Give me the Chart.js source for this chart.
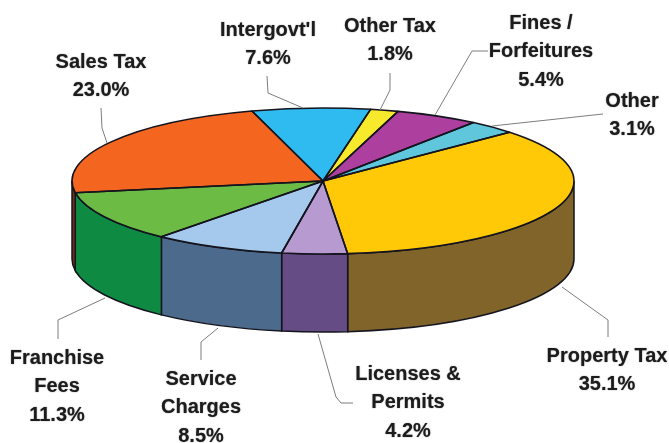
<!DOCTYPE html>
<html>
<head>
<meta charset="utf-8">
<title>Revenue by source</title>
<script src="https://cdn.jsdelivr.net/npm/chart.js@4"></script>
<style>
  html, body { margin: 0; padding: 0; background: #fff; }
  canvas { display: block; }
</style>
</head>
<body>
<canvas id="revenueChart" width="669" height="443"></canvas>
<script>
// data, clockwise from the Property Tax slice
const categories = ["Property Tax", "Licenses & Permits", "Service Charges", "Franchise Fees", "Sales Tax", "Intergovt'l", "Other Tax", "Fines / Forfeitures", "Other"];
const values = [35.1, 4.2, 8.5, 11.3, 23.0, 7.6, 1.8, 5.4, 3.1];
const labelLines = [["Property Tax"], ["Licenses &", "Permits"], ["Service", "Charges"], ["Franchise", "Fees"], ["Sales Tax"], ["Intergovt'l"], ["Other Tax"], ["Fines /", "Forfeitures"], ["Other"]];

const topColors = ["#ffc907", "#b79bd0", "#a5c9ec", "#6bbb45", "#f4661f", "#2fbbef", "#f7e92c", "#ad3f9e", "#5fc6dc"];
const wallColors = ["#80642a", "#654c85", "#4c6a8b", "#0e8a43", "#6e3018", "#1b7fa8", "#a89c1c", "#742a6a", "#3f8a98"];

// label placement: centre x, y of first line
const labelPos = [[607, 356], [408, 374], [201, 379], [57, 358], [101, 62], [268, 30], [390, 26], [541, 23], [632, 101]];
const leaders = [
  [[608, 337], [608, 320], [562, 287]],
  [[318, 334], [336, 397], [341, 403], [353, 403]],
  [[201, 360], [201, 342], [218, 328]],
  [[58, 339], [58, 320], [105, 298]],
  [[101, 108], [102, 128], [107, 143]],
  [[267, 76], [268, 93], [303, 108]],
  [[390, 73], [390, 90], [380, 110]],
  [[488, 51], [472, 51], [435, 115]],
  [[603, 114], [492, 126]],
];

// the flat pie gets squashed into an ellipse at this spot
const centerX = 323;
const centerY = 181;
const squash = 73 / 251;
const depth = 78;

function ellipsePath(ctx, arc, y, from, to, ccw) {
  ctx.ellipse(centerX, y, arc.outerRadius, arc.outerRadius * squash, 0, from, to, ccw);
}

const pie3d = {
  id: "pie3d",
  beforeDatasetsDraw(chart) {
    const ctx = chart.ctx;
    const arcs = chart.getDatasetMeta(0).data;

    // side wall, only the front half of the ellipse shows
    ctx.save();
    ctx.lineWidth = 1.5;
    ctx.strokeStyle = "#14141e";
    arcs.forEach((arc, i) => {
      const from = Math.max(arc.startAngle, 0);
      const to = Math.min(arc.endAngle, Math.PI);
      if (from >= to) return;
      ctx.beginPath();
      ellipsePath(ctx, arc, centerY, from, to, false);
      ellipsePath(ctx, arc, centerY + depth, to, from, true);
      ctx.closePath();
      ctx.fillStyle = wallColors[i];
      ctx.fill();
      ctx.stroke();
    });
    ctx.restore();

    // chart.js draws the top face through this transform
    const first = arcs[0];
    ctx.save();
    ctx.translate(centerX, centerY);
    ctx.scale(1, squash);
    ctx.translate(-first.x, -first.y);
  },
  afterDatasetsDraw(chart) {
    const ctx = chart.ctx;
    ctx.restore();

    // outlines done here so the line width stays even
    const arcs = chart.getDatasetMeta(0).data;
    ctx.save();
    ctx.lineWidth = 1.6;
    ctx.lineJoin = "round";
    ctx.strokeStyle = "#14141e";
    arcs.forEach((arc) => {
      ctx.beginPath();
      ctx.moveTo(centerX, centerY);
      ellipsePath(ctx, arc, centerY, arc.startAngle, arc.endAngle, false);
      ctx.closePath();
      ctx.stroke();
    });
    ctx.restore();
  },
  afterDraw(chart) {
    const ctx = chart.ctx;
    ctx.save();

    // leader lines
    ctx.strokeStyle = "#7d7d7d";
    ctx.lineWidth = 1;
    leaders.forEach((pts) => {
      ctx.beginPath();
      pts.forEach((p, i) => (i ? ctx.lineTo(p[0], p[1]) : ctx.moveTo(p[0], p[1])));
      ctx.stroke();
    });

    // labels, the soft shadow thickens them like the scanned original
    ctx.fillStyle = "#1c1c1c";
    ctx.shadowColor = "rgba(0,0,0,0.55)";
    ctx.shadowBlur = 1.2;
    ctx.font = "bold 20px 'Liberation Sans', Arial, sans-serif";
    ctx.textAlign = "center";
    ctx.textBaseline = "middle";
    labelLines.forEach((lines, i) => {
      const rows = lines.concat(values[i].toFixed(1) + "%");
      rows.forEach((row, r) => {
        ctx.fillText(row, labelPos[i][0], labelPos[i][1] + r * 28.5);
      });
    });
    ctx.restore();
  },
};

new Chart(document.getElementById("revenueChart"), {
  type: "pie",
  data: {
    labels: categories,
    datasets: [
      {
        data: values,
        backgroundColor: topColors,
        borderWidth: 0,
        radius: 251,
        clip: false,
      },
    ],
  },
  options: {
    responsive: false,
    animation: false,
    rotation: 48,
    events: [],
    layout: { padding: 0 },
    plugins: {
      legend: { display: false },
      tooltip: { enabled: false },
    },
  },
  plugins: [pie3d],
});
</script>
</body>
</html>
